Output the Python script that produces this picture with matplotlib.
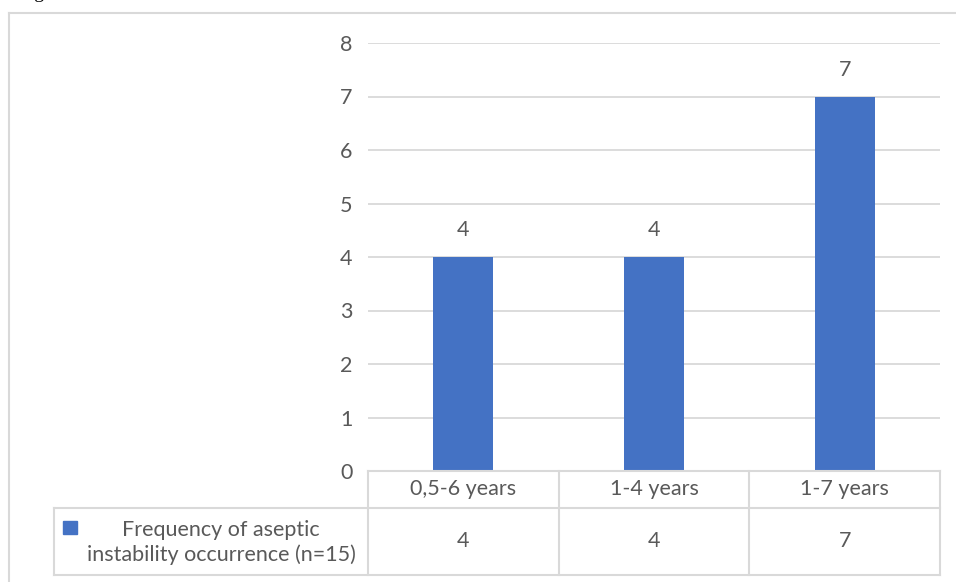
import matplotlib.pyplot as plt
from matplotlib.patches import Rectangle
from matplotlib.lines import Line2D

# Data
categories = ["0,5-6 years", "1-4 years", "1-7 years"]
values = [4, 4, 7]
series_name = "Frequency of aseptic\ninstability occurrence (n=15)"
y_ticks = [0, 1, 2, 3, 4, 5, 6, 7, 8]

bar_color = "#4472C4"
grid_color = "#D9D9D9"
text_color = "#595959"
plt.rcParams['font.family'] = ['Lato', 'DejaVu Sans']
fs = 15.5

W, H = 956, 582
fig = plt.figure(figsize=(W / 100, H / 100), dpi=100)

def fx(px):
    return px / W

def fy(py):
    return 1 - py / H

# outer chart border (left and top visible)
fig.add_artist(Line2D([fx(9), fx(9)], [fy(13), 0], color=grid_color, lw=1.5))
fig.add_artist(Line2D([fx(9), 1], [fy(13), fy(13)], color=grid_color, lw=1.5))
# caption above the chart, mostly cut off by the top edge
fig.text(fx(18), fy(-6), "Figure 3", fontsize=14, family="Liberation Serif",
         color="black", ha="left", va="center")

# main plot area
left, right, top, bottom = 368, 940, 43, 471
ax = fig.add_axes([fx(left), fy(bottom), fx(right - left), fy(top) - fy(bottom)])
x = list(range(len(categories)))
bars = ax.bar(x, values, width=0.315, color=bar_color, zorder=3)
ax.set_xlim(-0.5, len(categories) - 0.5)
ax.set_ylim(0, 8)
ax.set_yticks(y_ticks)
ax.yaxis.grid(True, color=grid_color, lw=1.3, zorder=0)
ax.set_xticks([])
for s in ax.spines.values():
    s.set_visible(False)
ax.tick_params(axis="y", length=0, pad=11, labelsize=fs, labelcolor=text_color)
for b, v in zip(bars, values):
    ax.annotate(str(v), (b.get_x() + b.get_width() / 2, v), xytext=(0, 12),
                textcoords="offset points", ha="center", va="bottom",
                fontsize=fs, color=text_color)

# data table below
cat_w = (right - left) / len(categories)
leg_left = 54
row1, row2, row3 = 471, 508, 575
tab = fig.add_axes([fx(leg_left), fy(row3), fx(right - leg_left), fy(row1) - fy(row3)])
x0 = -0.5 - (left - leg_left) / cat_w
tab.set_xlim(x0, len(categories) - 0.5)
tab.set_ylim(row3, row1)
tab.axis("off")
lk = dict(color=grid_color, lw=1.5, clip_on=False)
tab.plot([-0.5, len(categories) - 0.5], [row1, row1], **lk)
tab.plot([x0, len(categories) - 0.5], [row2, row2], **lk)
tab.plot([x0, len(categories) - 0.5], [row3, row3], **lk)
tab.plot([x0, x0], [row2, row3], **lk)
for i in range(len(categories) + 1):
    tab.plot([i - 0.5, i - 0.5], [row1, row3], **lk)
for i, c in enumerate(categories):
    tab.text(i, (row1 + row2) / 2, c, ha="center", va="center", fontsize=fs, color=text_color)
    tab.text(i, (row2 + row3) / 2, str(values[i]), ha="center", va="center", fontsize=fs,
             color=text_color)
tab.add_patch(Rectangle((x0 + (63 - leg_left) / cat_w, 534), 14 / cat_w, -13,
                        color=bar_color, clip_on=False))
tab.text(x0 + (221 - leg_left) / cat_w, (row2 + row3) / 2 + 1, series_name, ha="center",
         va="center", fontsize=fs, color=text_color, linespacing=1.3)

fig.savefig("out.png", dpi=100)
